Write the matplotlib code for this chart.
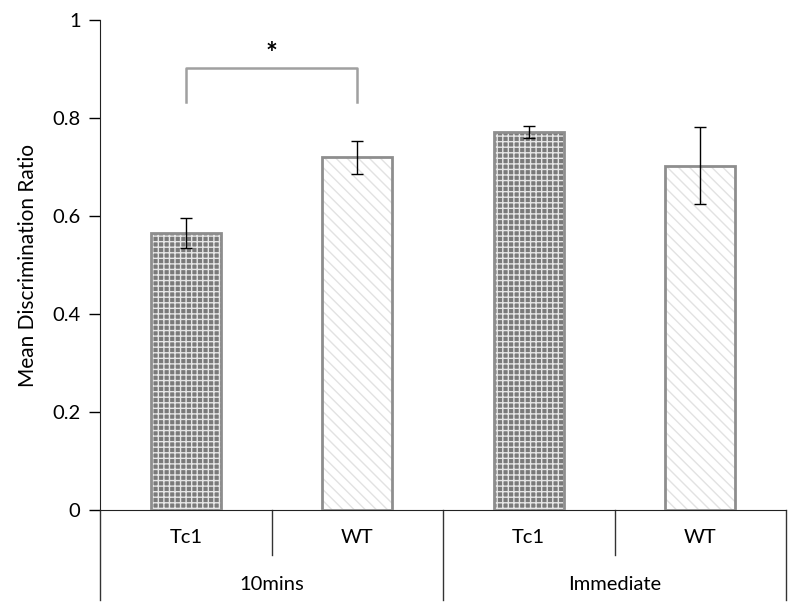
import numpy as np
import matplotlib.pyplot as plt

plt.rcParams['font.family'] = ['Lato', 'DejaVu Sans']
plt.rcParams['hatch.linewidth'] = 1.0

groups = ['10mins', 'Immediate']
strains = ['Tc1', 'WT', 'Tc1', 'WT']
means = [0.565, 0.720, 0.772, 0.703]
errs = [0.030, 0.034, 0.012, 0.078]

fig = plt.figure(figsize=(8, 6.14), dpi=100)
ax = fig.add_axes([0.125, 0.1694, 0.8575, 0.798])

x = np.arange(len(means))
w = 0.41
for i in x:
    if strains[i] == 'Tc1':
        ax.bar(i, means[i], w, color='#7a7a7a', edgecolor='#e6e6e6', hatch='+++', linewidth=0, zorder=2)
    else:
        ax.bar(i, means[i], w, color='white', edgecolor='#e2e2e2', hatch='\\\\\\', linewidth=0, zorder=2)
    ax.bar(i, means[i], w, color='none', edgecolor='#8e8e8e', linewidth=2, zorder=3)

ax.errorbar(x, means, yerr=errs, fmt='none', ecolor='black', elinewidth=1, capsize=4, capthick=1, zorder=4)

ax.set_xlim(-0.5, 3.5)
ax.set_ylim(0, 1)
ax.set_yticks([0, 0.2, 0.4, 0.6, 0.8, 1])
ax.set_yticklabels(['0', '0.2', '0.4', '0.6', '0.8', '1'], fontsize=14.5)
ax.tick_params(axis='y', length=8, width=1, pad=6)
ax.set_xticks([])
ax.set_ylabel('Mean Discrimination Ratio', fontsize=15, labelpad=10)
for s in ['top', 'right']:
    ax.spines[s].set_visible(False)
ax.spines['left'].set_color('#222222')
ax.spines['bottom'].set_color('#222222')

# category axis
trans = ax.get_xaxis_transform()
for xs, ln in [(-0.5, -0.184), (0.5, -0.092), (1.5, -0.184), (2.5, -0.092), (3.5, -0.184)]:
    ax.plot([xs, xs], [0, ln], color='#333333', lw=1, transform=trans, clip_on=False)
for i in x:
    ax.text(i, -0.057, strains[i], ha='center', va='center', fontsize=14.5, transform=trans)
for g, gname in enumerate(groups):
    ax.text(2 * g + 0.5, -0.153, gname, ha='center', va='center', fontsize=14.5, transform=trans)

# significance bracket
ax.plot([0, 0, 1, 1], [0.833, 0.902, 0.902, 0.833], color='#a0a0a0', lw=1.8, zorder=5)
ax.text(0.5, 0.93, '*', ha='center', va='center', fontsize=20, fontweight='bold')

fig.savefig('out.png', dpi=100)
